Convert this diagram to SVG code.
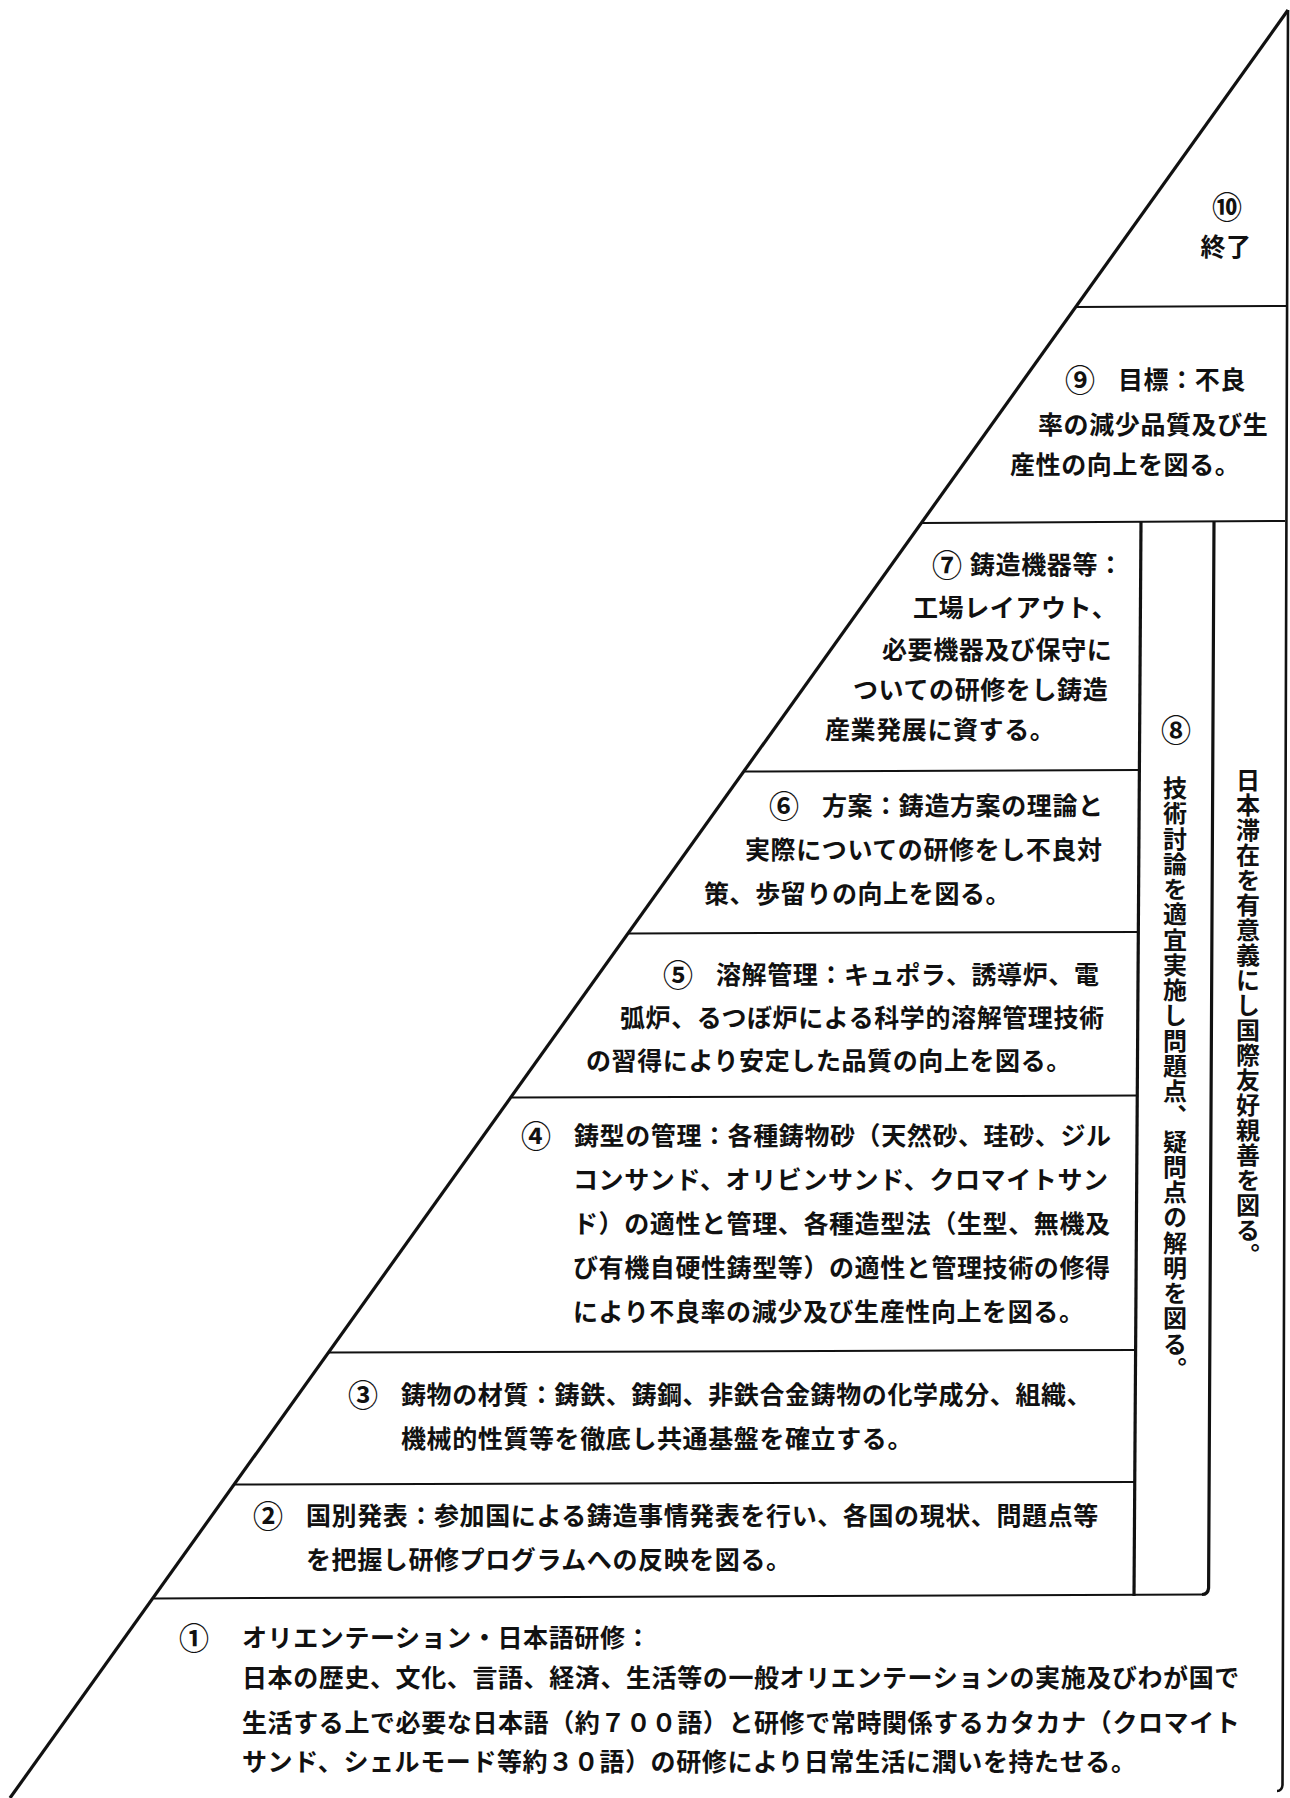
<svg xmlns="http://www.w3.org/2000/svg" width="1290" height="1798" viewBox="0 0 1290 1798">
<style>
.t{font-family:"Noto Sans CJK JP","Noto Sans CJK SC",sans-serif;font-size:25px;letter-spacing:0.6px;font-weight:700;fill:#111}
.n{font-family:"Noto Sans CJK JP","Noto Sans CJK SC",sans-serif;font-size:30px;font-weight:700;fill:#111;text-anchor:middle}
.v{font-family:"Noto Sans CJK JP","Noto Sans CJK SC",sans-serif;font-size:24px;font-weight:700;fill:#111;writing-mode:vertical-rl}
.ln{fill:none;stroke:#111;stroke-width:2}
.bold{fill:none;stroke:#111;stroke-width:3.2}
</style>
<rect width="1290" height="1798" fill="#fff"/>
<g id="frame">
<path class="bold" d="M1288,10 L10,1798"/>
<path class="ln" style="stroke-width:2.6" d="M1288,10 L1282.5,1785 Q1282,1791 1277,1791"/>
<path class="ln" d="M1076,307 L1287,306"/>
<path class="ln" d="M922,523 L1285,521"/>
<path class="ln" d="M745,771.5 L1139,770"/>
<path class="ln" d="M629,933.5 L1138,932"/>
<path class="ln" d="M512,1097.5 L1137,1095.5"/>
<path class="ln" d="M329,1352.5 L1135.5,1350"/>
<path class="ln" d="M235,1484.5 L1134.5,1482"/>
<path class="ln" d="M154,1598.5 L1202,1594.5"/>
<path class="bold" d="M1141,522 L1134,1596"/>
<path class="bold" d="M1214,522 L1208.6,1588 Q1208,1594.4 1202,1594.5"/>
</g>
<g id="step10">
<text class="n" x="1227" y="218">⑩</text>
<text class="t" x="1226" y="256" text-anchor="middle">終了</text>
</g>
<g id="step9">
<text class="n" x="1080" y="391">⑨</text>
<text class="t" x="1118" y="389">目標：不良</text>
<text class="t" x="1038" y="434">率の減少品質及び生</text>
<text class="t" x="1010" y="474">産性の向上を図る。</text>
</g>
<g id="step7">
<text class="n" x="947" y="576">⑦</text>
<text class="t" x="970" y="574">鋳造機器等：</text>
<text class="t" x="913" y="617">工場レイアウト、</text>
<text class="t" x="882" y="659">必要機器及び保守に</text>
<text class="t" x="853" y="699">ついての研修をし鋳造</text>
<text class="t" x="825" y="739">産業発展に資する。</text>
</g>
<g id="step8">
<text class="n" x="1176" y="741">⑧</text>
<text class="v" x="1175" y="776" style="letter-spacing:1.25px">技術討論を適宜実施し問題点、疑問点の解明を図る。</text>
</g>
<g id="stay">
<text class="v" x="1248" y="768" style="letter-spacing:1px">日本滞在を有意義にし国際友好親善を図る。</text>
</g>
<g id="step6">
<text class="n" x="784" y="817">⑥</text>
<text class="t" x="822" y="815">方案：鋳造方案の理論と</text>
<text class="t" x="745" y="859">実際についての研修をし不良対</text>
<text class="t" x="704" y="903">策、歩留りの向上を図る。</text>
</g>
<g id="step5">
<text class="n" x="678" y="986">⑤</text>
<text class="t" x="716" y="984">溶解管理：キュポラ、誘導炉、電</text>
<text class="t" x="620" y="1027">弧炉、るつぼ炉による科学的溶解管理技術</text>
<text class="t" x="586" y="1070">の習得により安定した品質の向上を図る。</text>
</g>
<g id="step4">
<text class="n" x="536" y="1147">④</text>
<text class="t" x="574" y="1145">鋳型の管理：各種鋳物砂（天然砂、珪砂、ジル</text>
<text class="t" x="573" y="1189">コンサンド、オリビンサンド、クロマイトサン</text>
<text class="t" x="573" y="1233">ド）の適性と管理、各種造型法（生型、無機及</text>
<text class="t" x="573" y="1277">び有機自硬性鋳型等）の適性と管理技術の修得</text>
<text class="t" x="573" y="1321">により不良率の減少及び生産性向上を図る。</text>
</g>
<g id="step3">
<text class="n" x="363" y="1406">③</text>
<text class="t" x="401" y="1404">鋳物の材質：鋳鉄、鋳鋼、非鉄合金鋳物の化学成分、組織、</text>
<text class="t" x="401" y="1448">機械的性質等を徹底し共通基盤を確立する。</text>
</g>
<g id="step2">
<text class="n" x="268" y="1527">②</text>
<text class="t" x="306" y="1525">国別発表：参加国による鋳造事情発表を行い、各国の現状、問題点等</text>
<text class="t" x="306" y="1569">を把握し研修プログラムへの反映を図る。</text>
</g>
<g id="step1">
<text class="n" x="194" y="1649">①</text>
<text class="t" x="242" y="1647">オリエンテーション・日本語研修：</text>
<text class="t" x="242" y="1687">日本の歴史、文化、言語、経済、生活等の一般オリエンテーションの実施及びわが国で</text>
<text class="t" x="242" y="1732">生活する上で必要な日本語（約７００語）と研修で常時関係するカタカナ（クロマイト</text>
<text class="t" x="242" y="1771">サンド、シェルモード等約３０語）の研修により日常生活に潤いを持たせる。</text>
</g>
</svg>
